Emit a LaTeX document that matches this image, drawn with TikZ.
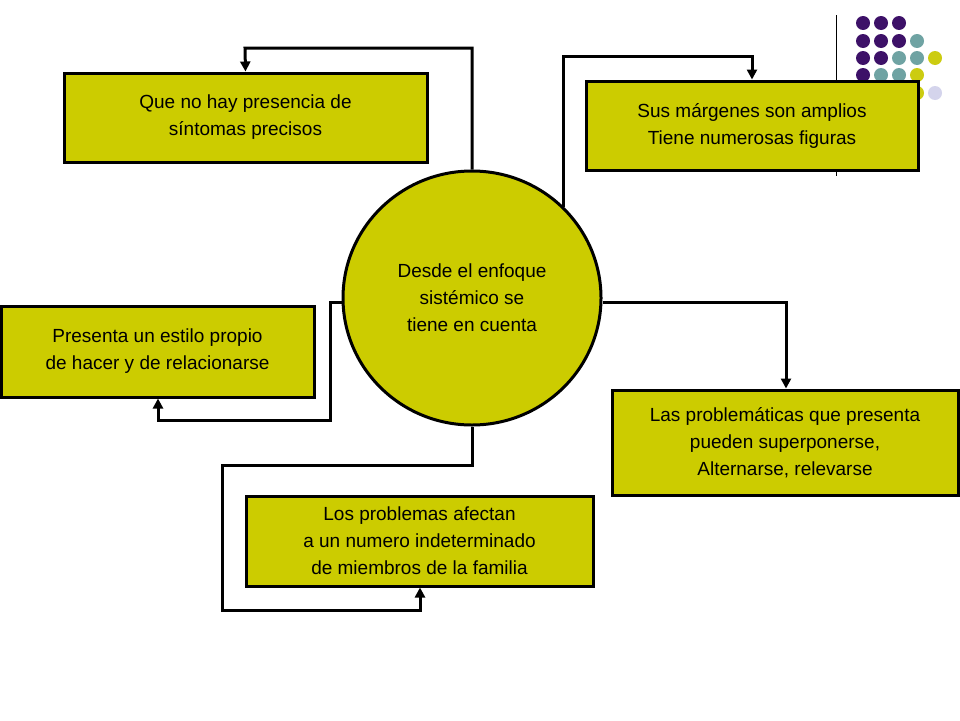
\documentclass[tikz,border=0pt]{standalone}
\usepackage{fontspec}
\setmainfont{Liberation Sans}
\usetikzlibrary{arrows.meta,shapes.geometric}
\definecolor{olive}{HTML}{CCCC00}
\definecolor{dpurp}{HTML}{3D1168}
\definecolor{dteal}{HTML}{6FA3A3}
\definecolor{dyel}{HTML}{CCCC11}
\definecolor{dlav}{HTML}{D4D4EC}
\begin{document}
\begin{tikzpicture}[x=1pt,y=-1pt,
  box/.style={draw=black,line width=3pt,fill=olive,align=center,font=\fontsize{19}{27}\selectfont},
  conn/.style={line width=3pt,-{Triangle[length=10pt,width=10pt]}},
  dot/.style={circle,minimum size=14pt,inner sep=0pt}]
\useasboundingbox[fill=white] (0,0) rectangle (960,720);
% decoration
\draw[line width=1pt] (836,15) -- (836,176);
\foreach \x/\y/\c in {863/23/dpurp,881/23/dpurp,899/23/dpurp,
  863/41/dpurp,881/41/dpurp,899/41/dpurp,917/41/dteal,
  863/58/dpurp,881/58/dpurp,899/58/dteal,917/58/dteal,935/58/dyel,
  863/75/dpurp,881/75/dteal,899/75/dteal,917/75/dyel,
  899/93/dyel,917/93/dyel,935/93/dlav}
  \node[dot,fill=\c] at (\x,\y) {};
% boxes
\node[box,minimum width=363pt,minimum height=89pt] (a) at (245.5,117.5) {Que no hay presencia de\\ síntomas precisos};
\node[box,minimum width=332pt,minimum height=89pt] (b) at (752,125.5) {Sus márgenes son amplios\\Tiene numerosas figuras};
\node[box,minimum width=313pt,minimum height=91pt] (c) at (157.5,351.5) {Presenta un estilo propio\\ de hacer y de relacionarse};
\node[box,minimum width=346pt,minimum height=105pt] (d) at (785,442.5) {Las problemáticas que presenta\\pueden superponerse,\\Alternarse, relevarse};
\node[box,minimum width=347pt,minimum height=90pt] (e) at (419.5,541) {Los problemas afectan\\a un numero indeterminado\\ de miembros de la familia};
\node[box,ellipse,minimum width=258pt,minimum height=254pt] (o) at (472,298) {Desde el enfoque\\sistémico se\\tiene en cuenta};
% connectors
\coordinate (a1) at (472,48); \coordinate (a2) at (245,48);
\draw[conn] (o.north) -- (a1) -- (a2) -- (a.north);
\coordinate (b0) at (563,207); \coordinate (b1) at (563,56); \coordinate (b2) at (752,56);
\draw[conn] (b0) -- (b1) -- (b2) -- (b.north);
\coordinate (d1) at (786,302);
\draw[conn] (o.east |- d1) -- (d1) -- (d.north -| d1);
\coordinate (c0) at (344,302); \coordinate (c1) at (330,302); \coordinate (c2) at (330,420); \coordinate (c3) at (158,420);
\draw[conn] (c0) -- (c1) -- (c2) -- (c3) -- (c.south -| c3);
\coordinate (e1) at (472,465); \coordinate (e2) at (222,465); \coordinate (e3) at (222,610); \coordinate (e4) at (420,610);
\draw[conn] (o.south) -- (e1) -- (e2) -- (e3) -- (e4) -- (e.south -| e4);
\end{tikzpicture}
\end{document}
